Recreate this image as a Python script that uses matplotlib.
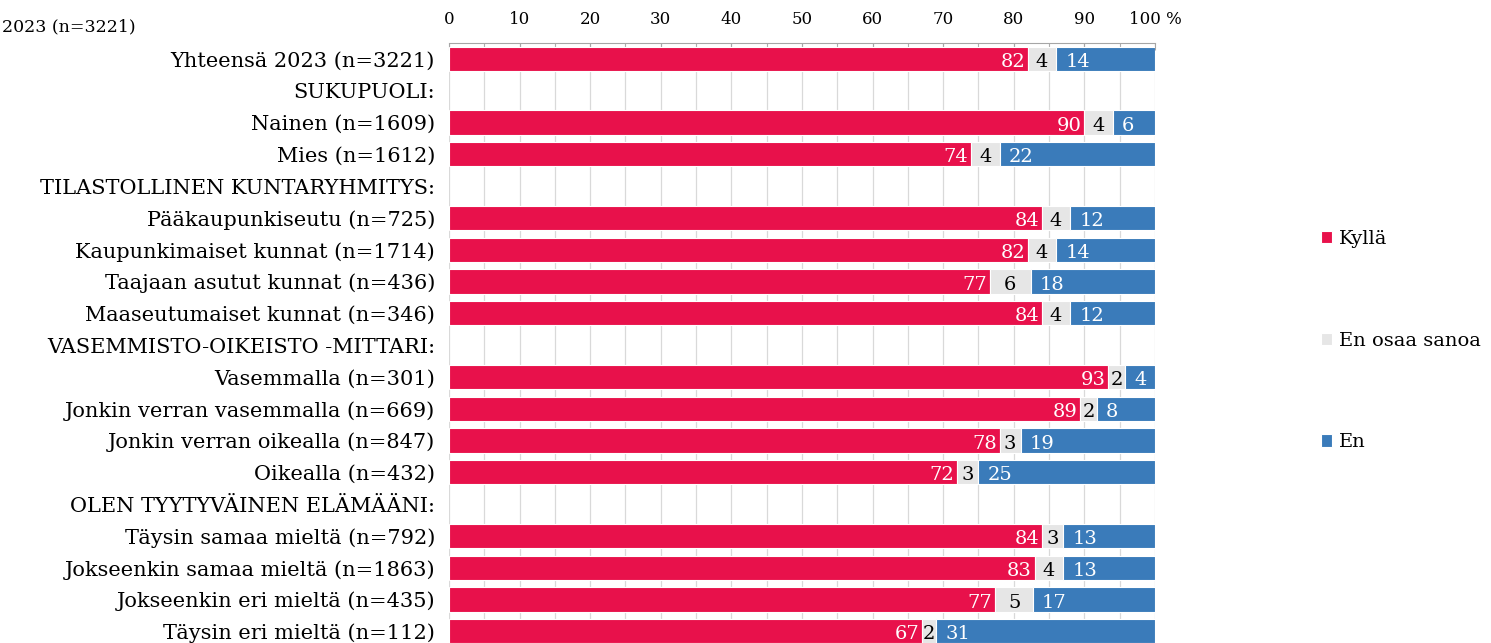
import matplotlib
matplotlib.use("Agg")
import matplotlib.pyplot as plt
from matplotlib.ticker import MultipleLocator, FixedLocator

plt.rcParams['font.family'] = ['DejaVu Serif']

categories = [
    "Yhteensä 2023 (n=3221)",
    "SUKUPUOLI:",
    "Nainen (n=1609)",
    "Mies (n=1612)",
    "TILASTOLLINEN KUNTARYHMITYS:",
    "Pääkaupunkiseutu (n=725)",
    "Kaupunkimaiset kunnat (n=1714)",
    "Taajaan asutut kunnat (n=436)",
    "Maaseutumaiset kunnat (n=346)",
    "VASEMMISTO-OIKEISTO -MITTARI:",
    "Vasemmalla (n=301)",
    "Jonkin verran vasemmalla (n=669)",
    "Jonkin verran oikealla (n=847)",
    "Oikealla (n=432)",
    "OLEN TYYTYVÄINEN ELÄMÄÄNI:",
    "Täysin samaa mieltä (n=792)",
    "Jokseenkin samaa mieltä (n=1863)",
    "Jokseenkin eri mieltä (n=435)",
    "Täysin eri mieltä (n=112)",
]
# None = group heading row (no bar)
kylla = [82, None, 90, 74, None, 84, 82, 76.6, 84, None, 93.4, 89.4, 78, 72, None, 84, 83, 77.4, 67]
eos   = [4, None, 4, 4, None, 4, 4, 5.8, 4, None, 2.4, 2.4, 3, 3, None, 3, 4, 5.3, 2]
en    = [14, None, 6, 22, None, 12, 14, 17.6, 12, None, 4.2, 8.2, 19, 25, None, 13, 13, 17.3, 31]
series_names = ["Kyllä", "En osaa sanoa", "En"]
tick_values = [0, 10, 20, 30, 40, 50, 60, 70, 80, 90, 100]
tick_labels = ["0", "10", "20", "30", "40", "50", "60", "70", "80", "90", "100 %"]
title = "2023 (n=3221)"

c_red = "#E8114B"
c_gray = "#E6E6E6"
c_blue = "#3A7BBA"
fs = 15
fs_val = 14

fig = plt.figure(figsize=(14.91, 6.43), dpi=100)
ax = fig.add_axes([0.3011, -0.0065, 0.4735, 0.9396])

rows = [i for i in range(len(categories)) if kylla[i] is not None]
k = [kylla[i] for i in rows]
g = [eos[i] for i in rows]
b = [en[i] for i in rows]
left2 = [a + c for a, c in zip(k, g)]
h = 0.76
ax.barh(rows, k, height=h, color=c_red, edgecolor="white", linewidth=0.8, label=series_names[0], zorder=3)
ax.barh(rows, g, left=k, height=h, color=c_gray, edgecolor="white", linewidth=0.8, label=series_names[1], zorder=3)
ax.barh(rows, b, left=left2, height=h, color=c_blue, edgecolor="white", linewidth=0.8, label=series_names[2], zorder=3)

for y, kv, gv, bv, l2 in zip(rows, k, g, b, left2):
    ax.text(kv - 0.4, y + 0.1, f"{round(kv)}", ha="right", va="center", color="white", fontsize=fs_val, zorder=4)
    ax.text(kv + gv / 2, y + 0.1, f"{round(gv)}", ha="center", va="center", color="black", fontsize=fs_val, zorder=4)
    ax.text(l2 + 1.3, y + 0.1, f"{round(bv)}", ha="left", va="center", color="white", fontsize=fs_val, zorder=4)

ax.set_ylim(len(categories) - 0.5, -0.5)
ax.set_xlim(0, 100)
ax.set_yticks(range(len(categories)))
ax.set_yticklabels(categories, fontsize=fs)
ax.tick_params(axis="y", length=0, pad=10)

ax.xaxis.tick_top()
ax.xaxis.set_major_locator(FixedLocator(tick_values))
ax.set_xticklabels(tick_labels, fontsize=12)
ax.xaxis.set_minor_locator(MultipleLocator(5))
ax.tick_params(axis="x", which="both", direction="in", length=5, color="#A6A6A6", pad=11)
ax.grid(axis="x", which="both", color="#D9D9D9", linewidth=0.9, zorder=0)
for s in ["left", "right", "bottom"]:
    ax.spines[s].set_visible(False)
ax.spines["top"].set_color("#A6A6A6")

fig.text(2 / 1491, 1 - 27 / 643, title, ha="left", va="center", fontsize=12.5)

fig.legend(loc="center left", bbox_to_anchor=(0.874, 0.47), frameon=False, fontsize=14,
           handlelength=0.6, handleheight=0.6, handletextpad=0.35, labelspacing=4.3)

fig.savefig("out.png", dpi=100)
